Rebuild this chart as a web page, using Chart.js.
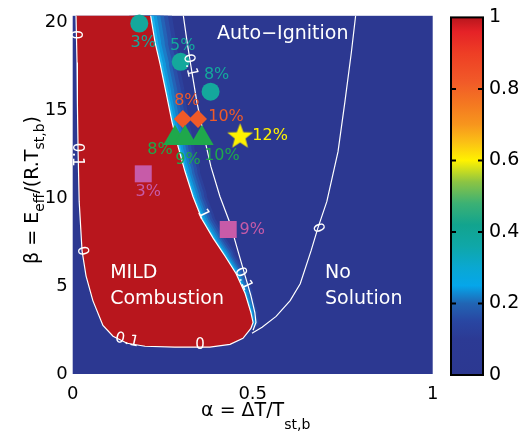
<!DOCTYPE html>
<html>
<head>
<meta charset="utf-8">
<script src="https://cdn.jsdelivr.net/npm/chart.js@4.4.1/dist/chart.umd.min.js"></script>
<style>
  body { margin: 0; background: #fff; }
  #wrap { position: relative; width: 520px; height: 435px; }
  canvas { position: absolute; left: 0; top: 0; }
</style>
</head>
<body>
<div id="wrap">
  <canvas id="mapCanvas" width="520" height="435"></canvas>
  <canvas id="barCanvas" width="520" height="435"></canvas>
</div>
<script>
Chart.defaults.font.family = "'DejaVu Sans', sans-serif";
Chart.defaults.color = '#000';

// contour outlines, as [alpha, beta]
const mildLeftEdge = [
  [0.009, 20.6], [0.012, 17.74], [0.013, 15.48], [0.015, 12.66], [0.018, 9.83],
  [0.026, 7.01], [0.037, 5.59], [0.056, 4.18], [0.084, 2.77], [0.112, 2.15],
  [0.151, 1.75], [0.201, 1.58], [0.284, 1.53], [0.381, 1.53], [0.437, 1.69],
  [0.473, 2.03], [0.495, 2.6]
];
const mildRightEdge = [
  [0.215, 20.6], [0.229, 18.87], [0.243, 17.63], [0.259, 16.05], [0.276, 14.35],
  [0.293, 12.94], [0.312, 11.53], [0.334, 10.11], [0.359, 8.81], [0.39, 7.74],
  [0.423, 6.72], [0.454, 5.71], [0.479, 4.58], [0.495, 3.5], [0.501, 2.94]
];
const contour01 = [
  [0.306, 20.6], [0.318, 18.87], [0.329, 17.46], [0.345, 15.48], [0.365, 13.5],
  [0.384, 11.81], [0.409, 10.11], [0.437, 8.59], [0.459, 7.01], [0.479, 5.59],
  [0.495, 4.46], [0.506, 3.5], [0.509, 2.94], [0.501, 2.49]
];
const contour0Right = [
  [0.787, 20.6], [0.774, 18.31], [0.756, 15.48], [0.737, 12.66], [0.706, 9.83],
  [0.681, 8.31], [0.662, 7.01], [0.632, 5.14], [0.604, 4.18], [0.565, 3.28],
  [0.526, 2.66], [0.498, 2.32]
];

const xTicks = [0, 0.5, 1];
const yTicks = [0, 5, 10, 15, 20];
const cbTicks = [0, 0.2, 0.4, 0.6, 0.8, 1];

// measured cases
const circleAlpha = [0.185, 0.300, 0.383];
const circleBeta = [19.96, 17.78, 16.08];
const circleText = ['3%', '5%', '8%'];
const diamondAlpha = [0.306, 0.348];
const diamondBeta = [14.52, 14.52];
const diamondText = ['8%', '10%'];
const triangleAlpha = [0.284, 0.312, 0.359];
const triangleBeta = [13.42, 13.42, 13.42];
const triangleText = ['8%', '9%', '10%'];
const starAlpha = [0.465];
const starBeta = [13.6];
const starText = ['12%'];
const squareAlpha = [0.196, 0.432];
const squareBeta = [11.4, 8.23];
const squareText = ['3%', '9%'];

// contour level labels
const contourLabelText = ['0', '0.1', '0', '0.1', '0', '0.1', '1', '0.1', '0'];
const contourLabelPos = [
  [0.006, 19.32], [0.012, 12.49], [0.026, 7.0], [0.151, 1.92], [0.354, 1.64],
  [0.326, 17.57], [0.362, 9.1], [0.474, 5.42], [0.681, 8.31]
];

const regionText = [['Auto\u2212Ignition'], ['MILD', 'Combustion'], ['No', 'Solution']];
const regionPos = [[0.401, 19.38], [0.104, 5.76], [0.701, 5.76]];

const bgBlue = '#2c3891';
const mildRed = '#b8161d';
const teal = '#14a89c';
const orange = '#f05a28';
const green = '#1fa84b';
const yellow = '#fff200';
const pink = '#c75ba8';

function toPts(list) {
  return list.map(p => ({ x: p[0], y: p[1] }));
}

function zipPts(xs, ys) {
  return xs.map((v, i) => ({ x: v, y: ys[i] }));
}

function makeStar(size) {
  const c = document.createElement('canvas');
  c.width = size;
  c.height = size;
  const g = c.getContext('2d');
  const R = size / 2, r = R * 0.42;
  g.beginPath();
  for (let i = 0; i < 10; i++) {
    const rad = i % 2 === 0 ? R : r;
    const ang = -Math.PI / 2 + i * Math.PI / 5;
    g.lineTo(R + rad * Math.cos(ang), R + 1.5 + rad * Math.sin(ang));
  }
  g.closePath();
  g.fillStyle = yellow;
  g.fill();
  return c;
}

// light blue fringe just outside the MILD boundary
const haloColors = ['#2c419c', '#2a4fa8', '#2463b6', '#1b7dc8', '#1098dc', '#1cb2ec'];
const haloWidths = [42, 34, 26, 19, 12, 6];
const haloSets = haloColors.map((c, k) => {
  const n = mildRightEdge.length;
  return {
    data: toPts(mildRightEdge),
    showLine: true,
    pointRadius: 0,
    borderColor: c,
    borderWidth: haloWidths[k],
    borderCapStyle: 'round',
    borderJoinStyle: 'round',
    segment: {
      borderWidth: ctx => haloWidths[k] * (1 - 0.78 * ctx.p0DataIndex / (n - 1))
    },
    clip: 0,
    order: 30 - k
  };
});

const mildShape = mildLeftEdge.concat(mildRightEdge.slice().reverse(), [mildLeftEdge[0]]);

function lineSet(list, order) {
  return {
    data: toPts(list),
    showLine: true,
    pointRadius: 0,
    borderColor: '#ffffff',
    borderWidth: 1.2,
    fill: false,
    clip: 0,
    order: order
  };
}

function markerSet(xs, ys, style, radius, color, order) {
  return {
    data: zipPts(xs, ys),
    showLine: false,
    pointStyle: style,
    pointRadius: radius,
    pointHoverRadius: radius,
    backgroundColor: color,
    borderColor: color,
    borderWidth: 0,
    clip: false,
    order: order
  };
}

const markerGroups = [
  { text: circleText, xs: circleAlpha, ys: circleBeta, color: teal, off: [[4, 19], [2, -16], [6, -17]] },
  { text: diamondText, xs: diamondAlpha, ys: diamondBeta, color: orange, off: [[4, -18], [28, -2]] },
  { text: triangleText, xs: triangleAlpha, ys: triangleBeta, color: green, off: [[-15, 11], [3, 21], [20, 17]] },
  { text: starText, xs: starAlpha, ys: starBeta, color: yellow, off: [[30, 1]] },
  { text: squareText, xs: squareAlpha, ys: squareBeta, color: pink, off: [[5, 18], [24, 0]] }
];
const contourLabelAngle = [90, 90, 80, 12, 0, 78, 65, 65, 70];

function drawPieces(ctx, pieces, x0, baseline) {
  let x = x0;
  pieces.forEach(p => {
    ctx.font = p.font;
    ctx.fillText(p.t, x, baseline + p.dy);
    x += ctx.measureText(p.t).width;
  });
}

function piecesWidth(ctx, pieces) {
  let w = 0;
  pieces.forEach(p => {
    ctx.font = p.font;
    w += ctx.measureText(p.t).width;
  });
  return w;
}

const mapDecor = {
  id: 'mapDecor',
  beforeDatasetsDraw(chart) {
    const { ctx, chartArea: a } = chart;
    ctx.save();
    ctx.fillStyle = bgBlue;
    ctx.fillRect(a.left, a.top, a.right - a.left, a.bottom - a.top);
    ctx.restore();
  },
  afterDatasetsDraw(chart) {
    const { ctx } = chart;
    const sx = chart.scales.x, sy = chart.scales.y;
    ctx.save();
    ctx.textAlign = 'center';
    ctx.textBaseline = 'middle';

    // contour level labels
    ctx.fillStyle = '#ffffff';
    ctx.font = "15px 'DejaVu Sans'";
    contourLabelText.forEach((t, i) => {
      const px = sx.getPixelForValue(contourLabelPos[i][0]);
      const py = sy.getPixelForValue(contourLabelPos[i][1]);
      ctx.save();
      ctx.translate(px, py);
      ctx.rotate(contourLabelAngle[i] * Math.PI / 180);
      ctx.fillText(t, 0, 0);
      ctx.restore();
    });

    // region names
    ctx.textAlign = 'left';
    ctx.font = "19px 'DejaVu Sans'";
    regionText.forEach((lines, i) => {
      const px = sx.getPixelForValue(regionPos[i][0]);
      const py = sy.getPixelForValue(regionPos[i][1]);
      lines.forEach((ln, j) => ctx.fillText(ln, px, py + j * 26));
    });

    // case labels
    ctx.textAlign = 'center';
    ctx.font = "16px 'DejaVu Sans'";
    markerGroups.forEach(g => {
      ctx.fillStyle = g.color;
      g.text.forEach((t, i) => {
        const px = sx.getPixelForValue(g.xs[i]) + g.off[i][0];
        const py = sy.getPixelForValue(g.ys[i]) + g.off[i][1];
        ctx.fillText(t, px, py);
      });
    });
    ctx.restore();
  },
  afterDraw(chart) {
    const { ctx, chartArea: a } = chart;
    const main = "19px 'DejaVu Sans'";
    const sub = "14px 'DejaVu Sans'";
    ctx.save();
    ctx.fillStyle = '#000';
    ctx.textAlign = 'left';
    ctx.textBaseline = 'alphabetic';

    const xPieces = [
      { t: '\u03b1 = \u0394T/T', font: main, dy: 0 },
      { t: 'st,b', font: sub, dy: 13 }
    ];
    const xw = piecesWidth(ctx, xPieces);
    drawPieces(ctx, xPieces, (a.left + a.right) / 2 + 3 - xw / 2, 416);

    const yPieces = [
      { t: '\u03b2 = E', font: main, dy: 0 },
      { t: 'eff', font: sub, dy: 6 },
      { t: '/(R.T', font: main, dy: 0 },
      { t: 'st,b', font: sub, dy: 6 },
      { t: ')', font: main, dy: 0 }
    ];
    const yw = piecesWidth(ctx, yPieces);
    ctx.translate(38, 190);
    ctx.rotate(-Math.PI / 2);
    drawPieces(ctx, yPieces, -yw / 2, 0);
    ctx.restore();
  }
};

new Chart(document.getElementById('mapCanvas'), {
  type: 'scatter',
  data: {
    datasets: [
      ...haloSets,
      {
        data: toPts(mildShape),
        showLine: true,
        pointRadius: 0,
        borderColor: '#ffffff',
        borderWidth: 1.2,
        backgroundColor: mildRed,
        fill: 'shape',
        clip: 0,
        order: 20
      },
      lineSet(contour01, 10),
      lineSet(contour0Right, 10),
      markerSet(squareAlpha, squareBeta, 'rect', 12, pink, 4),
      markerSet(circleAlpha, circleBeta, 'circle', 9, teal, 3),
      markerSet(diamondAlpha, diamondBeta, 'rectRot', 9, orange, 2),
      markerSet(starAlpha, starBeta, makeStar(27), 13, yellow, 1),
      markerSet(triangleAlpha, triangleBeta, 'triangle', 13.5, green, 0)
    ]
  },
  options: {
    responsive: false,
    animation: false,
    events: [],
    layout: { padding: { top: 13, right: 87.3, left: 0, bottom: 0 } },
    plugins: { legend: { display: false }, tooltip: { enabled: false } },
    scales: {
      x: {
        type: 'linear',
        min: 0,
        max: 1,
        grid: { display: false, drawTicks: false },
        border: { display: false },
        ticks: { font: { size: 18 }, padding: 10, maxRotation: 0, callback: v => String(v) },
        afterBuildTicks: s => { s.ticks = xTicks.map(v => ({ value: v })); },
        afterFit: s => { s.height = 61; }
      },
      y: {
        type: 'linear',
        min: 0,
        max: 20.4,
        grid: { display: false, drawTicks: false },
        border: { display: false },
        ticks: { font: { size: 18 }, padding: 5, callback: v => String(v) },
        afterBuildTicks: s => { s.ticks = yTicks.map(v => ({ value: v })); },
        afterFit: s => { s.width = 72.7; }
      }
    }
  },
  plugins: [mapDecor]
});

// colour bar
const cbStops = [0, 0.1, 0.15, 0.2, 0.25, 0.3, 0.36, 0.42, 0.48, 0.54, 0.6, 0.65, 0.7, 0.76, 0.82, 0.9, 0.96, 1];
const cbColors = ['#2c3891', '#2c3a94', '#2946a2', '#2165b4', '#05a6ea', '#0aa8d2', '#0fa7a8',
  '#12a48e', '#3cb174', '#8cc443', '#fff200', '#fbc115', '#f7961d', '#f47721', '#f15a28',
  '#ee3e25', '#e52227', '#b8161d'];

const barFrame = {
  id: 'barFrame',
  afterDatasetsDraw(chart) {
    const { ctx, chartArea: a } = chart;
    const sy = chart.scales.y;
    ctx.save();
    ctx.strokeStyle = '#000';
    ctx.lineWidth = 2;
    ctx.strokeRect(a.left, a.top, a.right - a.left, a.bottom - a.top);
    cbTicks.slice(1, -1).forEach(v => {
      const py = sy.getPixelForValue(v);
      ctx.beginPath();
      ctx.moveTo(a.left, py);
      ctx.lineTo(a.left + 5, py);
      ctx.moveTo(a.right - 5, py);
      ctx.lineTo(a.right, py);
      ctx.stroke();
    });
    ctx.restore();
  }
};

new Chart(document.getElementById('barCanvas'), {
  type: 'bar',
  data: {
    labels: [''],
    datasets: [{
      data: [1],
      barPercentage: 1,
      categoryPercentage: 1,
      borderWidth: 0,
      backgroundColor: ctx => {
        const a = ctx.chart.chartArea;
        if (!a) return bgBlue;
        const g = ctx.chart.ctx.createLinearGradient(0, a.bottom, 0, a.top);
        cbStops.forEach((s, i) => g.addColorStop(s, cbColors[i]));
        return g;
      }
    }]
  },
  options: {
    responsive: false,
    animation: false,
    events: [],
    layout: { padding: { top: 13, right: 0, left: 451, bottom: 60 } },
    plugins: { legend: { display: false }, tooltip: { enabled: false } },
    scales: {
      x: { display: false },
      y: {
        position: 'right',
        min: 0,
        max: 1,
        grid: { display: false, drawTicks: false },
        border: { display: false },
        ticks: { font: { size: 19 }, padding: 6, callback: v => String(v) },
        afterBuildTicks: s => { s.ticks = cbTicks.map(v => ({ value: v })); },
        afterFit: s => { s.width = 37; }
      }
    }
  },
  plugins: [barFrame]
});
</script>
</body>
</html>
